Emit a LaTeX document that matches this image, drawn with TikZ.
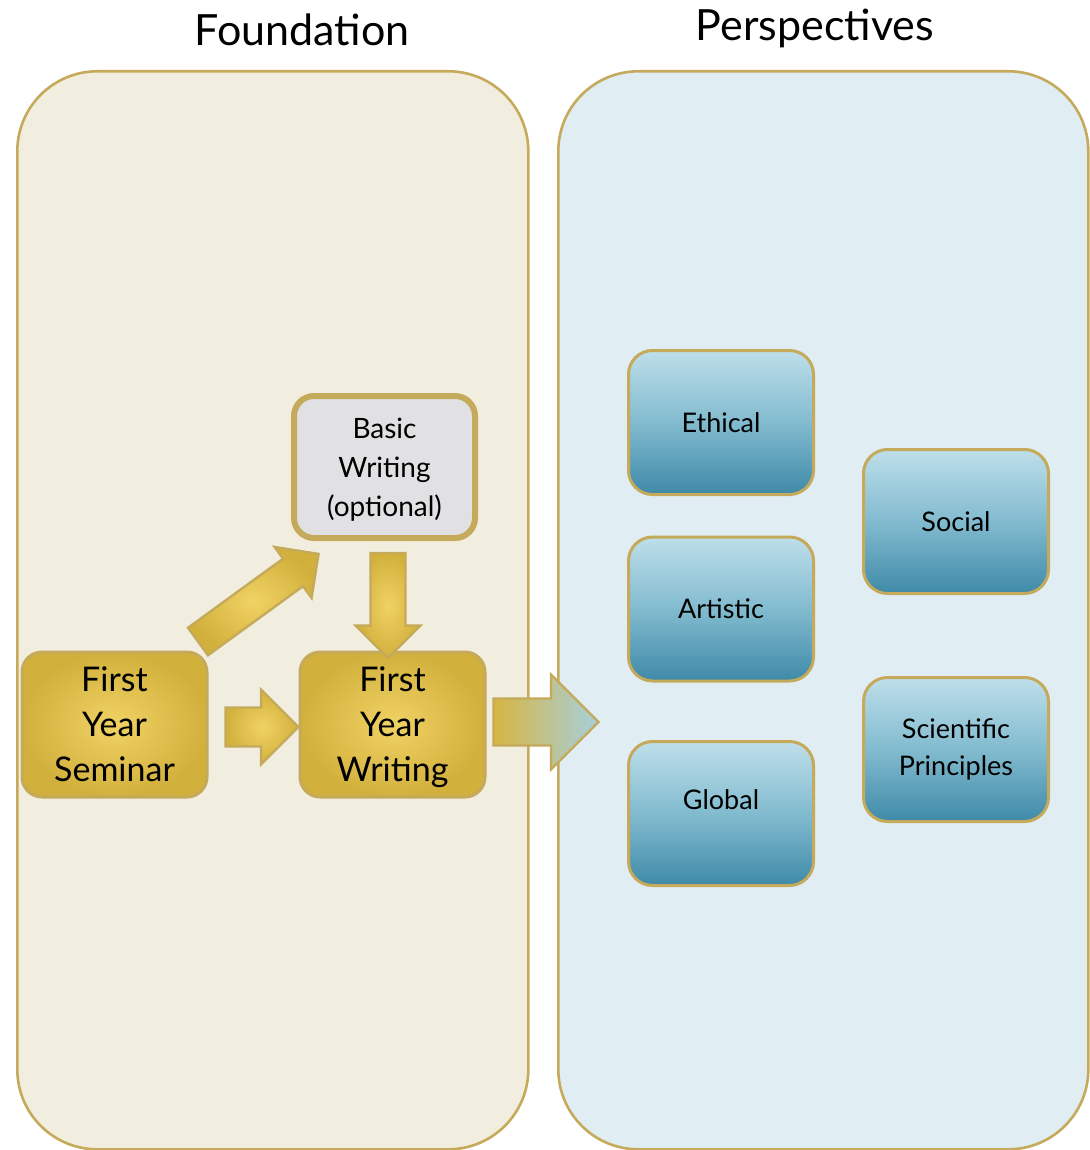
\documentclass[tikz,border=0pt]{standalone}
\usepackage{fontspec}
\setmainfont{Lato}
\usetikzlibrary{positioning, calc}

\definecolor{creamfill}{HTML}{F2EEDF}
\definecolor{bluefill}{HTML}{E0EDF3}
\definecolor{goldline}{HTML}{C4AA5A}
\definecolor{goldlight}{HTML}{F0D264}
\definecolor{golddark}{HTML}{D2B03C}
\definecolor{tealtop}{HTML}{BEDFEA}
\definecolor{tealmid}{HTML}{82BBCF}
\definecolor{tealbot}{HTML}{3F8AA8}
\definecolor{greyfill}{HTML}{E1E1E3}
\definecolor{arrowblue}{HTML}{A6D0DC}

\tikzset{
  panel/.style={draw=goldline, line width=1.3pt, rounded corners=40pt, anchor=north west, inner sep=0pt},
  title/.style={font=\fontsize{21.5}{26}\selectfont},
  goldblock/.style={draw=goldline, line width=1.5pt, rounded corners=10pt, inner color=goldlight, outer color=golddark, minimum width=92.5pt, minimum height=72.5pt, align=center, font=\fontsize{17}{22.5}\selectfont},
  optblock/.style={draw=goldline, line width=3pt, rounded corners=10pt, fill=greyfill, minimum width=90.5pt, minimum height=71pt, align=center, font=\fontsize{14}{19.5}\selectfont},
  persp/.style={draw=goldline, line width=1.5pt, rounded corners=12pt, top color=tealtop, bottom color=tealbot, middle color=tealmid, minimum width=92.5pt, minimum height=72pt, align=center, font=\fontsize{13.5}{18.5}\selectfont},
  fatarrow/.style={draw=goldline, line width=1.2pt, inner color=goldlight, outer color=golddark},
  % block arrow: length / half shaft / half head
  pics/blockarrow/.style args={#1/#2/#3}{code={
    \path[pic actions] (0pt,-#2) -- ({#1-#3},-#2) -- ({#1-#3},-#3) -- (#1,0pt)
      -- ({#1-#3},#3) -- ({#1-#3},#2) -- (0pt,#2) -- cycle;
  }}
}

\begin{document}
\begin{tikzpicture}[x=0.5pt, y=-0.5pt]
  \useasboundingbox (0,0) rectangle (1090,1150);

  % The two panels and their titles
  \node[panel, fill=creamfill, minimum width=255.5pt, minimum height=539pt] (foundation) at (16,70) {};
  \node[panel, fill=bluefill, minimum width=265pt, minimum height=539pt] (perspectives) at (557,70) {};

  \node[title] (foundtitle) at (302,30) {Foundation};
  \node[title] (persptitle) at (815,28) {Perspectives};

  % Foundation courses
  \node[goldblock] (seminar) at (114.5,724.5) {First\\Year\\Seminar};
  \node[goldblock, text depth=0pt] (writing) at (392.5,724.5) {First\\Year\\Writing};
  \node[optblock, text depth=0pt] (basic) at (384.5,467) {Basic\\Writing\\(optional)};

  % Block arrows between the courses
  \pic[fatarrow] (semtowrit) at ([xshift=8.5pt, yshift=-1.25pt]seminar.east) {blockarrow={36.5pt/9.75pt/18.75pt}};
  \pic[fatarrow, rotate=36] (semtobasic) at ([xshift=-5.25pt, yshift=4.5pt]seminar.north east) {blockarrow={74.5pt/8.5pt/15.75pt}};
  \pic[fatarrow, rotate=-90] (basictowrit) at ([xshift=1.75pt, yshift=-6pt]basic.south) {blockarrow={52.5pt/8.75pt/16.25pt}};

  % Foundation leads into the perspectives
  \pic[fatarrow, left color=golddark!85!goldlight, right color=arrowblue] (writtopersp) at ([xshift=3.5pt, yshift=1.25pt]writing.east) {blockarrow={52.5pt/11.75pt/23.75pt}};

  % Perspective areas
  \node[persp] (ethical) at (721,422.5) {Ethical};
  \node[persp] (artistic) at (721,609) {Artistic};
  \node[persp] (global) at (721,813.5) {\raisebox{14pt}{Global}};
  \node[persp] (social) at (956,521.5) {Social};
  \node[persp] (scientific) at (956,749.5) {Scientific\\Principles};
\end{tikzpicture}
\end{document}
